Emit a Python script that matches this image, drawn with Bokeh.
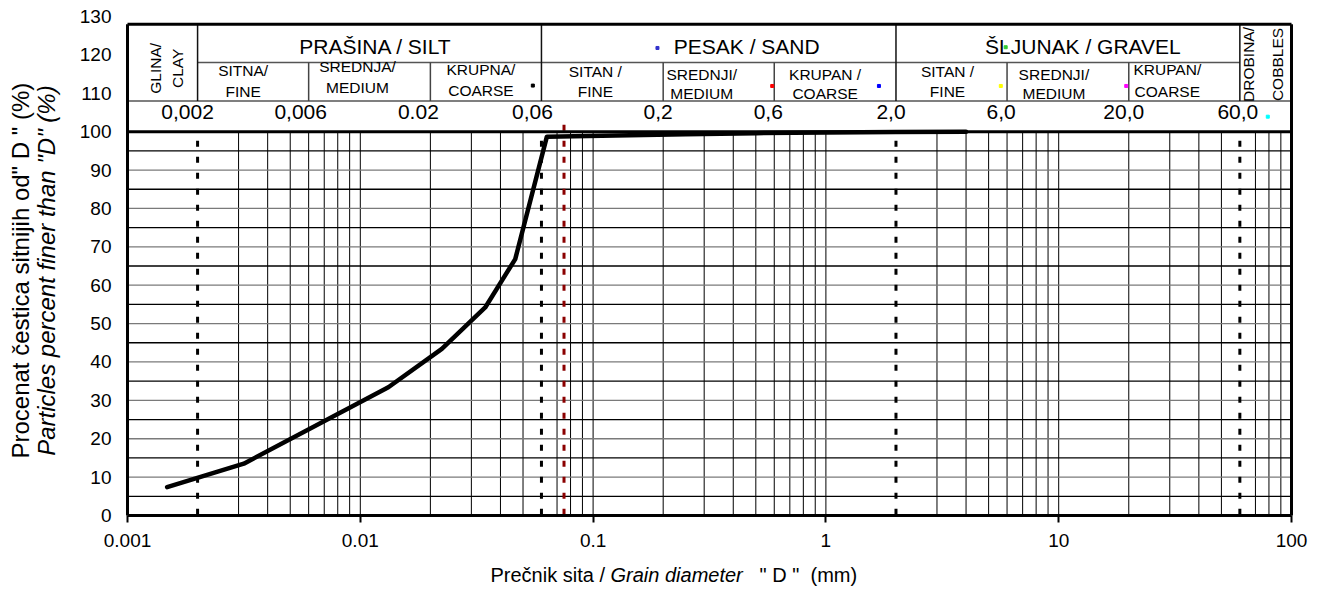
import math
from bokeh.plotting import figure
from bokeh.models import FixedTicker, Label, Range1d, CustomJSTickFormatter
from bokeh.embed import file_html
from bokeh.resources import INLINE
from bokeh.core.properties import value

# ---------------- data ----------------
grain_diameter_mm = [0.00148, 0.00316, 0.0132, 0.0224, 0.0344, 0.0463, 0.0633,
                     0.125, 0.25, 0.5, 1.0, 2.0, 4.0]
percent_finer = [7.4, 13.5, 33.4, 43.4, 54.2, 66.8, 98.7,
                 99.0, 99.3, 99.6, 99.8, 99.9, 100.0]

x_ticks = [0.001, 0.01, 0.1, 1, 10, 100]
x_tick_labels = ["0.001", "0.01", "0.1", "1", "10", "100"]
y_ticks = list(range(0, 131, 10))

fraction_bounds = [0.002, 0.06, 2.0, 60.0]
sub_bounds = [0.006, 0.02, 0.2, 0.6, 6.0, 20.0]
bound_labels = ["0,002", "0,006", "0.02", "0,06", "0,2", "0,6", "2,0", "6,0", "20,0", "60,0"]
sieve_200 = 0.075

main_names = ["PRAŠINA / SILT", "PESAK / SAND", "ŠLJUNAK / GRAVEL"]
side_names = [("GLINA/", "CLAY"), ("DROBINA/", "COBBLES")]
sub_names = [("SITNA/", "FINE"), ("SREDNJA/", "MEDIUM"), ("KRUPNA/", "COARSE"),
             ("SITAN /", "FINE"), ("SREDNJI/", "MEDIUM"), ("KRUPAN /", "COARSE"),
             ("SITAN /", "FINE"), ("SREDNJI/", "MEDIUM"), ("KRUPAN/", "COARSE")]

marker_x = [0.0551, 0.189, 0.588, 1.69, 5.92, 5.64, 19.5, 79.1]
marker_y = [112.0, 121.8, 111.9, 111.9, 122.0, 111.9, 111.9, 103.9]
marker_colors = ["black", "#3333cc", "red", "blue", "#33cc33", "yellow", "magenta", "cyan"]

y_title = 'Procenat čestica sitnijih od" D " (%)'
y_title_en = 'Particles percent finer than "D" (%)'
x_title_parts = ["Prečnik sita /", "Grain diameter", '" D "', "(mm)"]

# ---------------- layout / style ----------------
FONT = "Liberation Sans"
W, H = 1324, 589
X_MIN, X_MAX = 0.001, 100
Y_MIN, Y_MAX = 0, 130
Y_TOP, ROW1, ROW2, BASE = 128, 118, 108, 100
# pixel box of the plotting area inside the canvas
PX_L, PX_R, PX_T, PX_B = 127, 1291, 16, 515

dec_per_px = (math.log10(X_MAX) - math.log10(X_MIN)) / (PX_R - PX_L)
y_per_px = (Y_MAX - Y_MIN) / (PX_B - PX_T)
x_start = 10 ** (math.log10(X_MIN) - PX_L * dec_per_px)
x_end = 10 ** (math.log10(X_MAX) + (W - PX_R) * dec_per_px)
y_start = Y_MIN - (H - PX_B) * y_per_px
y_end = Y_MAX + PX_T * y_per_px

p = figure(width=W, height=H, x_axis_type="log",
           x_range=Range1d(x_start, x_end), y_range=Range1d(y_start, y_end),
           output_backend="svg", toolbar_location=None, min_border=0)
p.outline_line_color = None
p.xgrid.visible = False
p.ygrid.visible = False
p.background_fill_color = "white"
p.border_fill_color = "white"
p.title.visible = False

# axes (drawn at fixed data positions)
xa = p.xaxis[0]
xa.fixed_location = Y_MIN
xa.bounds = (X_MIN, X_MAX)
xa.ticker = FixedTicker(ticks=x_ticks)
xa.formatter = CustomJSTickFormatter(args=dict(vals=x_ticks, labels=x_tick_labels), code="""
    for (let i = 0; i < vals.length; i++) {
        if (Math.abs(Math.log10(vals[i]) - Math.log10(tick)) < 1e-6) return labels[i];
    }
    return "";
""")
xa.axis_line_width = 3
xa.major_tick_out = 7
xa.major_tick_in = 0
xa.major_tick_line_width = 2
xa.minor_tick_line_color = None
xa.major_label_standoff = 11
xa.major_label_text_font = FONT
xa.major_label_text_font_size = "19px"
xa.major_label_text_color = "black"

ya = p.yaxis[0]
ya.fixed_location = X_MIN
ya.bounds = (Y_MIN, Y_MAX)
ya.ticker = FixedTicker(ticks=y_ticks)
ya.axis_line_color = None
ya.major_tick_out = 0
ya.major_tick_in = 0
ya.minor_tick_line_color = None
ya.major_label_standoff = 16
ya.major_label_text_font = FONT
ya.major_label_text_font_size = "19px"
ya.major_label_text_color = "black"

# grid (only below 100 %)
vgrid = []
for e in range(-3, 2):
    for m in range(1, 10):
        v = round(m * 10 ** e, 6)
        if X_MIN < v < X_MAX and not any(abs(v - b) / b < 1e-9 for b in fraction_bounds):
            vgrid.append(v)
p.segment(x0=vgrid, x1=vgrid, y0=[0] * len(vgrid), y1=[BASE] * len(vgrid),
          line_color="black", line_width=1)
hg_dark = [y for y in range(5, 100, 5) if y % 10 != 0]
hg_gray = [y for y in range(10, 100, 10)]
p.segment(x0=[X_MIN] * len(hg_gray), x1=[X_MAX] * len(hg_gray), y0=hg_gray, y1=hg_gray,
          line_color="#7a7a7a", line_width=1.3)
p.segment(x0=[X_MIN] * len(hg_dark), x1=[X_MAX] * len(hg_dark), y0=hg_dark, y1=hg_dark,
          line_color="black", line_width=1.3)

# fraction boundaries (dotted) and sieve No.200
nb = len(fraction_bounds)
p.segment(x0=fraction_bounds, x1=fraction_bounds, y0=[BASE] * nb, y1=[0] * nb,
          line_color="black", line_width=3, line_dash="6 10", line_dash_offset=7)
p.segment(x0=[sieve_200], x1=[sieve_200], y0=[101.8], y1=[0],
          line_color="#8b0000", line_width=3, line_dash="6 10")

# header table / plot-area borders
p.segment(x0=[X_MIN], x1=[X_MAX], y0=[BASE], y1=[BASE], line_color="black", line_width=3)
p.segment(x0=[X_MIN, fraction_bounds[0]], x1=[X_MAX, fraction_bounds[-1]],
          y0=[ROW2, ROW1], y1=[ROW2, ROW1], line_color="#555555", line_width=1.5)
p.segment(x0=fraction_bounds, x1=fraction_bounds, y0=[ROW2] * nb, y1=[Y_TOP] * nb,
          line_color="#111111", line_width=1.5)
ns = len(sub_bounds)
p.segment(x0=sub_bounds, x1=sub_bounds, y0=[ROW2] * ns, y1=[ROW1] * ns,
          line_color="#444444", line_width=1.5)
p.segment(x0=[X_MIN, X_MAX, X_MIN], x1=[X_MIN, X_MAX, X_MAX],
          y0=[Y_MIN, Y_MIN, Y_TOP], y1=[Y_TOP, Y_TOP, Y_TOP],
          line_color="black", line_width=3)

# grading curve
p.line(grain_diameter_mm, percent_finer, line_color="black", line_width=4.5,
       line_join="round", line_cap="round")

# small legend-like markers
p.scatter(marker_x, marker_y, marker="square", size=3, color=marker_colors)

# header texts
def lm(a, b):
    return math.sqrt(a * b)

main_cells = [(fraction_bounds[i], fraction_bounds[i + 1]) for i in range(nb - 1)]
main_off = [6, 28, 15]
p.text(x=[lm(a, b) for a, b in main_cells], y=[122.1] * 3, text=main_names,
       x_offset=main_off, text_align="center", text_baseline="middle",
       text_font=value(FONT), text_font_size=value("21px"), text_color="black")

all_bounds = sorted(fraction_bounds + sub_bounds)
sub_cells = [(all_bounds[i], all_bounds[i + 1]) for i in range(len(all_bounds) - 1)]
sub_off = [-10, -12, -5, -7, -17, -10, -4, -14, -17]
sub_y1 = [115.9, 117.0, 116.3, 115.7, 115.0, 115.0, 115.7, 115.0, 116.3]
sub_y2 = [110.4, 111.4, 110.8, 110.5, 109.9, 109.9, 110.5, 109.9, 110.5]
sx = [lm(a, b) for a, b in sub_cells]
p.text(x=sx, y=sub_y1, text=[s[0] for s in sub_names], x_offset=sub_off,
       text_align="center", text_baseline="middle",
       text_font=value(FONT), text_font_size=value("15.5px"), text_color="black")
p.text(x=sx, y=sub_y2, text=[s[1] for s in sub_names], x_offset=sub_off,
       text_align="center", text_baseline="middle",
       text_font=value(FONT), text_font_size=value("15.5px"), text_color="black")

num_off = [-10, -8, -12, -9, -5, -6, -5, -6, -5, -2]
p.text(x=all_bounds, y=[105.1] * len(all_bounds), text=bound_labels, x_offset=num_off,
       text_align="center", text_baseline="middle",
       text_font=value(FONT), text_font_size=value("21px"), text_color="black")

side_cells = [(X_MIN, fraction_bounds[0]), (fraction_bounds[-1], X_MAX)]
side_x, side_t, side_o, side_y = [], [], [], []
for (a, b), (l1, l2), (o1, o2), yy in zip(side_cells, side_names, [(-7, 15), (-17, 12)], [116.5, 117.5]):
    side_x += [lm(a, b), lm(a, b)]
    side_t += [l1, l2]
    side_o += [o1, o2]
    side_y += [yy, yy]
p.text(x=side_x, y=side_y, text=side_t, x_offset=side_o, angle=math.pi / 2,
       text_align="center", text_baseline="middle",
       text_font=value(FONT), text_font_size=value("15.5px"), text_color="black")

# axis titles
p.add_layout(Label(x=X_MIN, y=63.8, x_offset=-107, angle=math.pi / 2,
                   text=y_title, text_align="center",
                   text_baseline="middle", text_font=FONT, text_font_size="24px",
                   text_color="black"))
p.add_layout(Label(x=X_MIN, y=63.8, x_offset=-81, angle=math.pi / 2,
                   text=y_title_en, text_align="center",
                   text_baseline="middle", text_font=FONT, text_font_size="24px",
                   text_font_style="italic", text_color="black"))

title_styles = ["normal", "italic", "normal", "normal"]
title_px = [363, 483, 632, 683]
for t, st, off in zip(x_title_parts, title_styles, title_px):
    p.add_layout(Label(x=X_MIN, y=-15.6, x_offset=off, text=t, text_align="left",
                       text_baseline="middle", text_font=FONT, text_font_size="20px",
                       text_font_style=st, text_color="black"))

open("out.html", "w").write(file_html(p, INLINE))
